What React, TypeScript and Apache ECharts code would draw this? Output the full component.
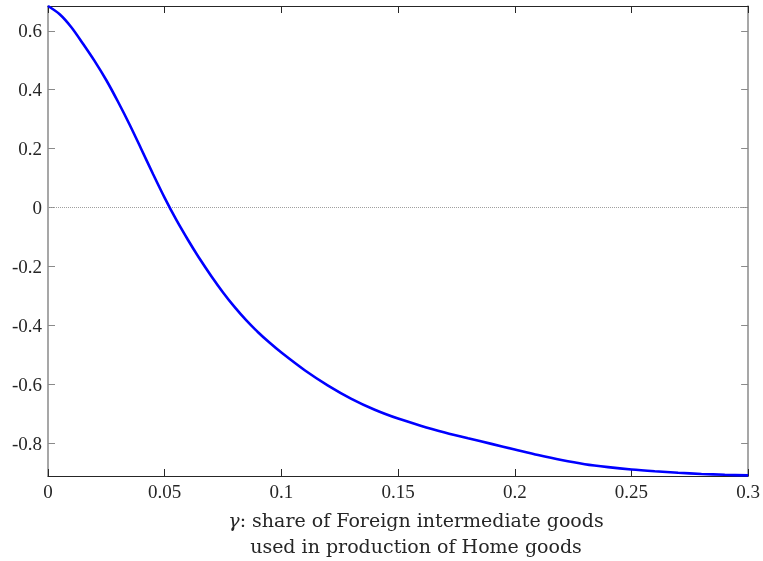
import React, { useEffect, useRef } from "react";
import * as echarts from "echarts";

const gammaValues = [
  0, 0.005, 0.01, 0.015, 0.02, 0.025, 0.03, 0.035, 0.04, 0.045, 0.05, 0.055,
  0.06, 0.065, 0.07, 0.075, 0.08, 0.085, 0.09, 0.095, 0.1, 0.11, 0.12, 0.13,
  0.14, 0.15, 0.16, 0.17, 0.18, 0.19, 0.2, 0.21, 0.22, 0.23, 0.24, 0.25,
  0.26, 0.27, 0.28, 0.29, 0.3,
];
const responseValues = [
  0.684, 0.656, 0.612, 0.556, 0.497, 0.432, 0.359, 0.281, 0.198, 0.114, 0.033,
  -0.042, -0.11, -0.174, -0.233, -0.288, -0.338, -0.383, -0.423, -0.459,
  -0.492, -0.552, -0.604, -0.649, -0.686, -0.716, -0.741, -0.763, -0.783,
  -0.802, -0.821, -0.84, -0.857, -0.871, -0.881, -0.889, -0.895, -0.9,
  -0.904, -0.907, -0.909,
];
const xTicks = [0, 0.05, 0.1, 0.15, 0.2, 0.25, 0.3];
const xTickLabels = ["0", "0.05", "0.1", "0.15", "0.2", "0.25", "0.3"];
const yTicks = [-0.8, -0.6, -0.4, -0.2, 0, 0.2, 0.4, 0.6];
const yTickLabels = ["-0.8", "-0.6", "-0.4", "-0.2", "0", "0.2", "0.4", "0.6"];
const yMin = -0.911;
const yMax = 0.684;
const xLabelLine1 = ": share of Foreign intermediate goods";
const xLabelLine2 = "used in production of Home goods";

const FONT = "'Liberation Serif', 'DejaVu Serif', serif";
const TITLE_FONT = "'DejaVu Serif', serif";
const TEXT = "#262626";
const DARK = "#262626";
const GRAY = "#8a8a8a";

export default function App() {
  const ref = useRef<HTMLDivElement>(null);
  useEffect(() => {
    if (!ref.current) return;
    const chart = echarts.init(ref.current, undefined, { renderer: "svg" });
    const data = gammaValues.map((g, i) => [g, responseValues[i]]);
    const xLabelFmt = (v: number) => {
      const i = xTicks.findIndex((t) => Math.abs(t - v) < 1e-9);
      return i >= 0 ? xTickLabels[i] : "";
    };
    const yLabelFmt = (v: number) => {
      const i = yTicks.findIndex((t) => Math.abs(t - v) < 1e-9);
      return i >= 0 ? yTickLabels[i] : "";
    };
    const xAxisBase = (position: string, showLabel: boolean) => ({
      type: "value",
      min: 0,
      max: 0.3,
      position,
      axisLine: { show: true, onZero: false, lineStyle: { color: DARK, width: 1 } },
      axisTick: {
        show: true,
        inside: true,
        length: 7,
        customValues: xTicks,
        lineStyle: { color: DARK, width: 1 },
      },
      axisLabel: showLabel
        ? {
            show: true,
            customValues: xTicks,
            formatter: xLabelFmt,
            color: TEXT,
            fontFamily: FONT,
            fontSize: 19,
            margin: 6,
          }
        : { show: false },
      splitLine: { show: false },
    });
    const yAxisBase = (position: string, showLabel: boolean) => ({
      type: "value",
      min: yMin,
      max: yMax,
      position,
      axisLine: { show: true, onZero: false, lineStyle: { color: GRAY, width: 1.5 } },
      axisTick: {
        show: true,
        inside: true,
        length: 7,
        customValues: yTicks,
        lineStyle: { color: GRAY, width: 1 },
      },
      axisLabel: showLabel
        ? {
            show: true,
            customValues: yTicks,
            formatter: yLabelFmt,
            color: TEXT,
            fontFamily: FONT,
            fontSize: 19,
            margin: 6,
          }
        : { show: false },
      splitLine: { show: false },
    });
    chart.setOption({
      animation: false,
      grid: { left: 48, right: 14, top: 6, bottom: 85, containLabel: false },
      xAxis: [xAxisBase("bottom", true), xAxisBase("top", false)],
      yAxis: [yAxisBase("left", true), yAxisBase("right", false)],
      series: [
        {
          type: "line",
          xAxisIndex: 0,
          yAxisIndex: 0,
          data,
          showSymbol: false,
          smooth: 0.3,
          lineStyle: { color: "#0000ff", width: 2.6 },
          z: 3,
          markLine: {
            silent: true,
            symbol: ["none", "none"],
            label: { show: false },
            lineStyle: { color: "#a0a0a0", type: "dotted", width: 1 },
            data: [{ yAxis: 0 }],
            z: 1,
          },
        },
      ],
      graphic: [
        {
          type: "text",
          x: 416,
          y: 507,
          style: {
            text: "{g|γ}" + xLabelLine1 + "\n" + xLabelLine2,
            font: `19px ${TITLE_FONT}`,
            fill: TEXT,
            align: "center",
            verticalAlign: "top",
            lineHeight: 26,
            rich: {
              g: {
                fontFamily: TITLE_FONT,
                fontStyle: "italic",
                fontSize: 19,
                fill: TEXT,
                lineHeight: 26,
              },
            },
          },
        },
      ],
    });
    return () => chart.dispose();
  }, []);
  return (
    <div
      ref={ref}
      style={{ position: "fixed", left: 0, top: 0, width: 763, height: 561 }}
    />
  );
}
